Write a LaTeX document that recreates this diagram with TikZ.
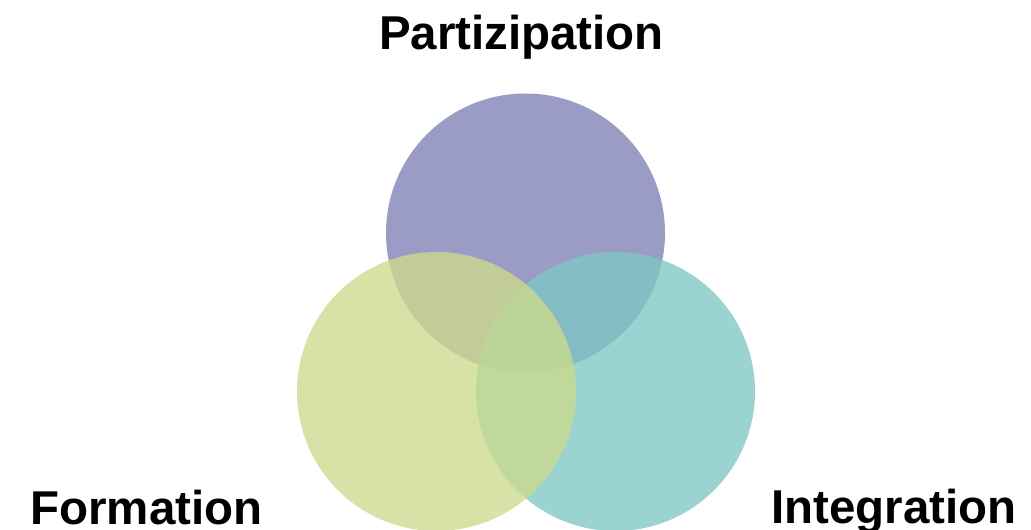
\documentclass[tikz,border=0pt]{standalone}
\usepackage{fontspec}
\setmainfont{Liberation Sans}
\usetikzlibrary{positioning}

\definecolor{partcol}{RGB}{127,128,182}
\definecolor{formcol}{RGB}{204,218,141}
\definecolor{integcol}{RGB}{127,199,196}

\begin{document}
\begin{tikzpicture}[x=0.75pt,y=-0.75pt,
  set/.style={circle,draw=none,fill opacity=0.78,inner sep=0pt,minimum size=209.25pt},
  label/.style={anchor=base,font=\fontsize{35.6}{42}\selectfont\bfseries,text=black}]
  \useasboundingbox (0,0) rectangle (1031,530);

  \node[set,fill=partcol]  (part)  at (525.5,233)   {};
  \node[set,fill=integcol] (integ) at (615.5,391.5) {};
  \node[set,fill=formcol]  (form)  at (436.5,391.5) {};

  \node[label] (partlbl)  at (521.5,50)  {Partizipation};
  \node[label] (formlbl)  at (146.5,524) {Formation};
  \node[label] (integlbl) at (894,523)   {Integration};
\end{tikzpicture}
\end{document}
